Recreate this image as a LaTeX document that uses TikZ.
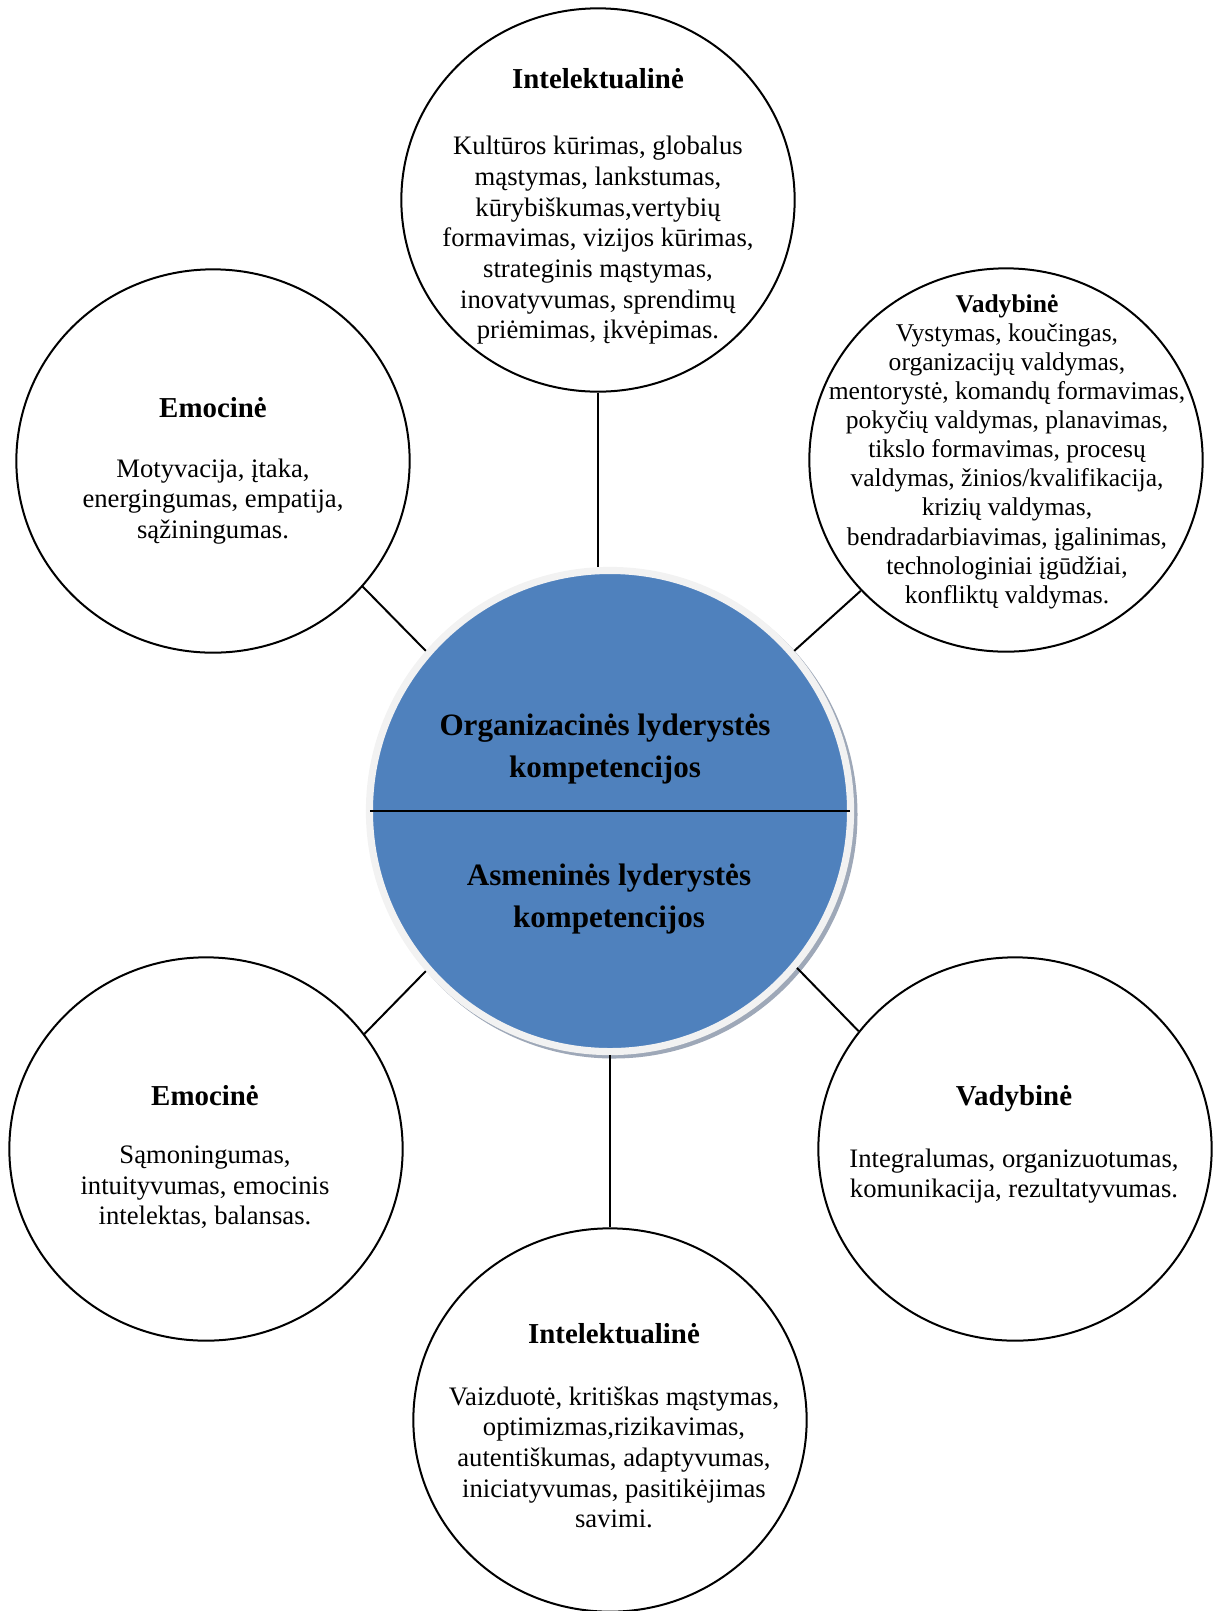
\documentclass[tikz,border=0pt]{standalone}
\usepackage{fontspec}
\setmainfont{Liberation Serif}
\usetikzlibrary{shapes.geometric, positioning}
\definecolor{coreblue}{RGB}{79, 129, 189}
\definecolor{ringgrey}{RGB}{242, 242, 242}
\definecolor{shadegrey}{RGB}{158, 168, 184}
\newcommand{\ringhead}[1]{{\bfseries\fontsize{13}{13.8}\selectfont #1}}

\begin{document}
\begin{tikzpicture}[x=0.45pt, y=-0.45pt,
  ring/.style={draw, ellipse, line width=0.9pt, minimum width=177pt, minimum height=172.5pt, inner sep=0pt},
  ringtxt/.style={anchor=north, align=center, inner sep=0pt, font=\fontsize{12}{13.8}\selectfont},
  coretxt/.style={anchor=north, align=center, inner sep=0pt, font=\bfseries\fontsize{14}{18.9}\selectfont},
  link/.style={line width=0.9pt}
]
  \useasboundingbox (0,0) rectangle (1215,1611);

  \node[circle, fill=shadegrey, minimum size=219.6pt, inner sep=0pt] (coreShade) at (613.5,814.5) {};
  \node[circle, draw=ringgrey, line width=3.2pt, fill=coreblue, minimum size=216.5pt, inner sep=0pt] (core) at (610,811) {};
  \draw[link, shorten <=1.8pt, shorten >=1.8pt] (core.west) -- (core.east);
  \node[coretxt] (orgTxt) at (605,713) {Organizacinės lyderystės\\ kompetencijos};
  \node[coretxt] (asmTxt) at (609,863) {Asmeninės lyderystės\\ kompetencijos};

  \node[ring] (intTop) at (598,200) {};
  \node[ring] (vadTop) at (1006,460) {};
  \node[ring] (emoTop) at (213,461) {};
  \node[ring] (emoBot) at (206,1149) {};
  \node[ring] (vadBot) at (1015,1149) {};
  \node[ring] (intBot) at (610,1420) {};

  \node[ringtxt] (intTopTxt) at (598,68) {
    \ringhead{Intelektualinė}\\[16pt]
    Kultūros kūrimas, globalus\\
    mąstymas, lankstumas,\\
    kūrybiškumas,vertybių\\
    formavimas, vizijos kūrimas,\\
    strateginis mąstymas,\\
    inovatyvumas, sprendimų\\
    priėmimas, įkvėpimas.
  };
  \node[ringtxt, font=\fontsize{11.5}{13.1}\selectfont] (vadTopTxt) at (1007,294) {
    \textbf{Vadybinė}\\
    Vystymas, koučingas,\\
    organizacijų valdymas,\\
    mentorystė, komandų formavimas,\\
    pokyčių valdymas, planavimas,\\
    tikslo formavimas, procesų\\
    valdymas, žinios/kvalifikacija,\\
    krizių valdymas,\\
    bendradarbiavimas, įgalinimas,\\
    technologiniai įgūdžiai,\\
    konfliktų valdymas.
  };
  \node[ringtxt] (emoTopTxt) at (213,397) {
    \ringhead{Emocinė}\\[13pt]
    Motyvacija, įtaka,\\
    energingumas, empatija,\\
    sąžiningumas.
  };
  \node[ringtxt] (emoBotTxt) at (205,1085) {
    \ringhead{Emocinė}\\[12.3pt]
    Sąmoningumas,\\
    intuityvumas, emocinis\\
    intelektas, balansas.
  };
  \node[ringtxt] (vadBotTxt) at (1014,1085) {
    \ringhead{Vadybinė}\\[14pt]
    Integralumas, organizuotumas,\\
    komunikacija, rezultatyvumas.
  };
  \node[ringtxt] (intBotTxt) at (614,1323) {
    \ringhead{Intelektualinė}\\[14pt]
    Vaizduotė, kritiškas mąstymas,\\
    optimizmas,rizikavimas,\\
    autentiškumas, adaptyvumas,\\
    iniciatyvumas, pasitikėjimas\\
    savimi.
  };

  \draw[link] (intTop.south) -- (intTop.south |- core.north);
  \draw[link] (emoTop.-40) -- (core.139);
  \draw[link] (vadTop.222) -- (core.41);
  \draw[link] (emoBot.36) -- (core.221);
  \draw[link] (vadBot.143) -- (core.-40);
  \draw[link] (core.south) -- (intBot.north);
\end{tikzpicture}
\end{document}
